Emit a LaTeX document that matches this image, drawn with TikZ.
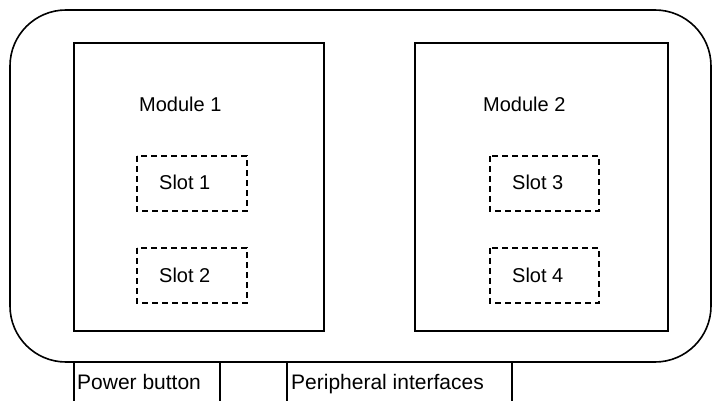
\documentclass[tikz,border=0pt]{standalone}
\usepackage{fontspec}
\setmainfont{Liberation Sans}
\begin{document}
\begin{tikzpicture}[x=1pt,y=-1pt,
  solidbox/.style={draw=black,line width=1.3pt},
  slotbox/.style={draw=black,line width=1.4pt,dash pattern=on 6pt off 4pt},
  lbl/.style={inner sep=0pt,anchor=base west,font=\fontsize{20}{24}\selectfont},
  blbl/.style={lbl,font=\fontsize{21}{25}\selectfont}]
\useasboundingbox (0,0) rectangle (713,401);
% outer casing
\draw[line width=1.6pt,rounded corners=56pt] (10,10) rectangle (711,362);
% modules
\draw[solidbox] (74,43) rectangle (324,331);
\draw[solidbox] (415,43) rectangle (668,331);
\node[lbl] (m1) at (139,112) {Module 1};
\node[lbl] (m2) at (483,112) {Module 2};
% slots
\draw[slotbox] (137,156) rectangle (247,211);
\draw[slotbox] (137,248) rectangle (247,303);
\draw[slotbox] (490,156) rectangle (599,211);
\draw[slotbox] (490,248) rectangle (599,303);
\node[lbl] (s1) at (159,190) {Slot 1};
\node[lbl] (s2) at (159,282) {Slot 2};
\node[lbl] (s3) at (512,190) {Slot 3};
\node[lbl] (s4) at (512,282) {Slot 4};
% bottom strip
\draw[solidbox] (74,362) rectangle (220,420);
\draw[solidbox] (220,362) rectangle (287,420);
\draw[solidbox] (287,362) rectangle (512,420);
\node[blbl] (pb) at (77,389) {Power button};
\node[blbl] (pi) at (291,389) {Peripheral interfaces};
\end{tikzpicture}
\end{document}
